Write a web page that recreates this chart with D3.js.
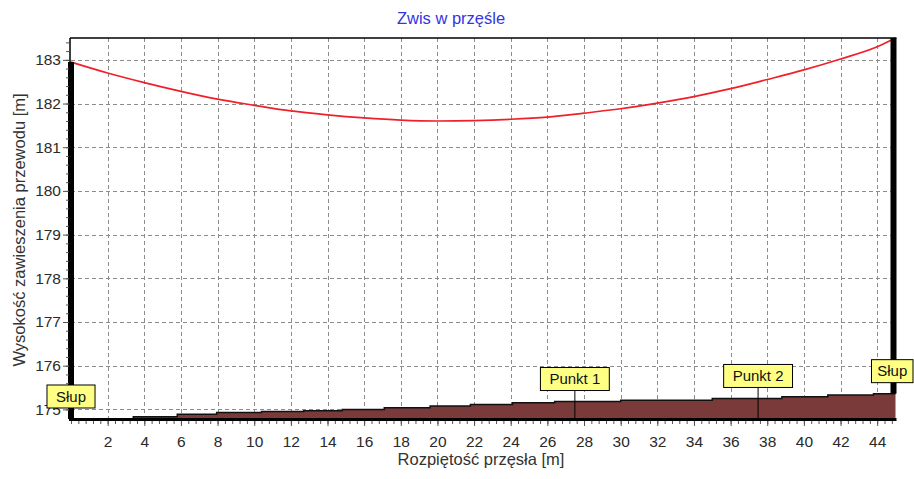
<!DOCTYPE html>
<html>
<head>
<meta charset="utf-8">
<script src="https://cdn.jsdelivr.net/npm/d3@7"></script>
<style>
  html, body { margin: 0; padding: 0; background: #fff; }
  svg { display: block; font-family: "Liberation Sans", Arial, sans-serif; }
</style>
</head>
<body>
<svg id="chart" width="914" height="479"></svg>
<script>
// ---- data ----
const title = "Zwis w przęśle";
const xTitle = "Rozpiętość przęsła [m]";
const yTitle = "Wysokość zawieszenia przewodu [m]";

const cableX = [0, 2, 4, 6, 8, 10, 12, 14, 16, 18, 20, 22, 24, 26, 28, 30, 32, 34, 36, 38, 40, 42, 44, 45];
const cableY = [182.95, 182.70, 182.48, 182.28, 182.10, 181.96, 181.83, 181.74, 181.67, 181.62, 181.60, 181.61,
                181.64, 181.69, 181.78, 181.88, 182.01, 182.16, 182.34, 182.55, 182.77, 183.02, 183.30, 183.50];

const groundX = [0, 3.4, 5.8, 7.95, 10.4, 12.7, 14.8, 17.1, 19.6, 21.8, 24.1, 26.4, 30, 35, 38.8, 41.3, 43.8, 45];
const groundY = [174.78, 174.83, 174.89, 174.93, 174.95, 174.97, 175.00, 175.04, 175.08, 175.11, 175.15, 175.18,
                 175.21, 175.25, 175.29, 175.33, 175.36, 175.36];

const poleX = [0, 45];
const poleTopY = [182.95, 183.50];

const labelX = [0, 27.5, 37.5, 45];
const labelText = ["Słup", "Punkt 1", "Punkt 2", "Słup"];

const xTicks = [2, 4, 6, 8, 10, 12, 14, 16, 18, 20, 22, 24, 26, 28, 30, 32, 34, 36, 38, 40, 42, 44];
const yTicks = [175, 176, 177, 178, 179, 180, 181, 182, 183];

// ---- layout ----
const svg = d3.select("#chart");
const L = 71, R = 895.5, T = 38, B = 419;
const x = d3.scaleLinear().domain([0, 45]).range([L, R]);
const y = d3.scaleLinear().domain([174.78, 183.5]).range([B, T]);

const cable = cableX.map((v, i) => [v, cableY[i]]);
const ground = groundX.map((v, i) => [v, groundY[i]]);
function groundAt(v) {
  let g = groundY[0];
  for (let i = 0; i < groundX.length; i++) if (groundX[i] <= v) g = groundY[i];
  return g;
}

// title
svg.append("text").attr("x", 451).attr("y", 24).attr("text-anchor", "middle")
  .attr("font-size", 16.5).attr("fill", "#3434e0").text(title);

// grid
const grid = svg.append("g").attr("stroke", "#8c8c8c").attr("stroke-width", 1)
  .attr("stroke-dasharray", "4,3").attr("shape-rendering", "crispEdges");
grid.selectAll("line.h").data(yTicks).join("line")
  .attr("x1", L).attr("x2", R).attr("y1", d => Math.round(y(d)) + 0.5).attr("y2", d => Math.round(y(d)) + 0.5);
grid.selectAll("line.v").data(xTicks).join("line")
  .attr("y1", T).attr("y2", B).attr("x1", d => Math.round(x(d)) + 0.5).attr("x2", d => Math.round(x(d)) + 0.5);

// ground
svg.append("path").datum(ground)
  .attr("d", d3.area().curve(d3.curveStepAfter).x(d => x(d[0])).y0(B).y1(d => y(d[1])))
  .attr("fill", "#7a3a3a");
svg.append("path").datum(ground)
  .attr("d", d3.line().curve(d3.curveStepAfter).x(d => x(d[0])).y(d => y(d[1])))
  .attr("fill", "none").attr("stroke", "#111").attr("stroke-width", 1.5);

// cable
svg.append("path").datum(cable)
  .attr("d", d3.line().curve(d3.curveMonotoneX).x(d => x(d[0])).y(d => y(d[1])))
  .attr("fill", "none").attr("stroke", "#f0202a").attr("stroke-width", 1.7);

// frame
const frame = svg.append("g").attr("stroke", "#000").attr("fill", "none");
frame.append("line").attr("x1", L - 1).attr("x2", R + 1).attr("y1", T).attr("y2", T).attr("stroke-width", 1.5);
frame.append("line").attr("x1", L - 1).attr("x2", L - 1).attr("y1", T).attr("y2", B).attr("stroke-width", 1.5);
frame.append("line").attr("x1", L - 2).attr("x2", R + 1).attr("y1", B + 0.5).attr("y2", B + 0.5).attr("stroke-width", 3);

// poles
svg.selectAll("rect.pole").data(poleX).join("rect")
  .attr("x", (d, i) => i === 0 ? x(d) - 3 : x(d) - 5)
  .attr("width", 6)
  .attr("y", (d, i) => y(poleTopY[i]))
  .attr("height", (d, i) => (i === 0 ? B : y(groundAt(d))) - y(poleTopY[i]))
  .attr("fill", "#000");

// axes
const xAxisG = svg.append("g").attr("transform", `translate(0,${B + 2})`)
  .call(d3.axisBottom(x).tickValues(xTicks).tickSize(5).tickPadding(10).tickFormat(d3.format("d")));
const yAxisG = svg.append("g").attr("transform", `translate(${L - 2},0)`)
  .call(d3.axisLeft(y).tickValues(yTicks).tickSize(6).tickPadding(2).tickFormat(d3.format("d")));
[xAxisG, yAxisG].forEach(g => {
  g.select(".domain").remove();
  g.selectAll("line").attr("stroke", "#555");
  g.selectAll("text").attr("font-size", 15.5).attr("fill", "#2a2a2a")
    .attr("font-family", "'Liberation Sans', Arial, sans-serif");
});
// minor ticks
svg.append("g").attr("transform", `translate(0,${B + 2})`)
  .call(d3.axisBottom(x).tickValues(d3.range(0, 45.01, 0.4)).tickSize(3).tickFormat(""))
  .call(g => { g.select(".domain").remove(); g.selectAll("line").attr("stroke", "#555"); });
svg.append("g").attr("transform", `translate(${L - 2},0)`)
  .call(d3.axisLeft(y).tickValues(d3.range(175, 183.51, 0.2)).tickSize(3).tickFormat(""))
  .call(g => { g.select(".domain").remove(); g.selectAll("line").attr("stroke", "#555"); });

// point labels
const lab = svg.selectAll("g.lab").data(labelX).join("g").attr("class", "lab");
lab.each(function (d, i) {
  const g = d3.select(this);
  const cx = x(d);
  const bottom = y(groundAt(d)) - 11;
  const t = g.append("text").attr("font-size", 15).attr("fill", "#111").text(labelText[i]);
  const w = t.node().getComputedTextLength() + 18;
  let left = cx - w / 2, right = cx + w / 2;
  if (right > 913) right = 913;
  if (i > 0 && i < labelX.length - 1) {
    g.insert("line", "text").attr("x1", cx).attr("x2", cx).attr("y1", bottom).attr("y2", B)
      .attr("stroke", "#000").attr("stroke-width", 1);
  }
  g.insert("rect", "text").attr("x", left).attr("y", bottom - 23).attr("width", right - left).attr("height", 23)
    .attr("fill", "#ffff84").attr("stroke", "#000").attr("stroke-width", 1);
  t.attr("x", (left + right) / 2).attr("y", bottom - 6.5).attr("text-anchor", "middle");
});

// axis titles
svg.append("text").attr("x", 481).attr("y", 465).attr("text-anchor", "middle")
  .attr("font-size", 16.5).attr("fill", "#333").text(xTitle);
svg.append("text").attr("transform", "translate(25,230) rotate(-90)").attr("text-anchor", "middle")
  .attr("font-size", 16.5).attr("fill", "#333").text(yTitle);
</script>
</body>
</html>
